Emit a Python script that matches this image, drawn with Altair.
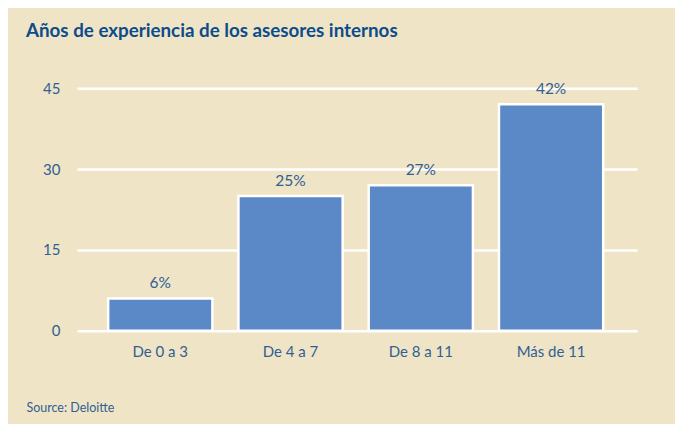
import altair as alt
import pandas as pd

categories = ["De 0 a 3", "De 4 a 7", "De 8 a 11", "Más de 11"]
values = [6, 25, 27, 42]
labels = ["6%", "25%", "27%", "42%"]
y_ticks = [0, 15, 30, 45]

df = pd.DataFrame({"cat": categories, "val": values, "lab": labels})

BG = "#F0E4C6"
BAR = "#5B88C6"
TXT = "#2F5F95"
TITLE = "#0B4C8C"
FONT = "Lato"

x_enc = alt.X(
    "cat:N",
    sort=categories,
    scale=alt.Scale(paddingInner=0.2, paddingOuter=0.25, align=0.48),
    axis=alt.Axis(
        title="Source: Deloitte",
        titleX=-51,
        titleY=81,
        titleAlign="left",
        titleAnchor="start",
        titleBaseline="alphabetic",
        titleFont=FONT,
        titleFontSize=12.5,
        titleFontWeight="normal",
        titleColor=TXT,
        labelAngle=0,
        labelFont=FONT,
        labelFontSize=15,
        labelColor=TXT,
        labelPadding=14,
        ticks=False,
        domain=False,
    ),
)

base = alt.Chart(df)

bars = base.mark_bar(color=BAR, stroke="white", strokeWidth=2.5).encode(
    x=x_enc,
    y=alt.Y(
        "val:Q",
        scale=alt.Scale(domain=[0, 45], nice=False),
        axis=alt.Axis(
            title=None,
            values=y_ticks,
            grid=True,
            gridColor="white",
            gridWidth=2.5,
            gridOpacity=1,
            ticks=False,
            domain=False,
            labelFont=FONT,
            labelFontSize=15,
            labelColor=TXT,
            labelPadding=17,
        ),
    ),
)

text = base.mark_text(
    baseline="bottom", dy=-7, font=FONT, fontSize=15.5, color=TXT
).encode(
    x=alt.X("cat:N", sort=categories),
    y="val:Q",
    text="lab:N",
)

chart = (
    alt.layer(bars, text)
    .properties(
        width=561,
        height=243,
        background=BG,
        padding={"left": 69, "top": 80, "right": 38, "bottom": 93},
        autosize=alt.AutoSizeParams(type="none"),
        title=alt.TitleParams(
            "Años de experiencia de los asesores internos",
            anchor="start",
            frame="group",
            dx=-51,
            offset=40,
            font=FONT,
            fontSize=18.8,
            fontWeight="bold",
            color=TITLE,
        ),
    )
    .configure_view(stroke=None)
)

chart.save("out.html", embed_options={"renderer": "svg", "actions": False})
